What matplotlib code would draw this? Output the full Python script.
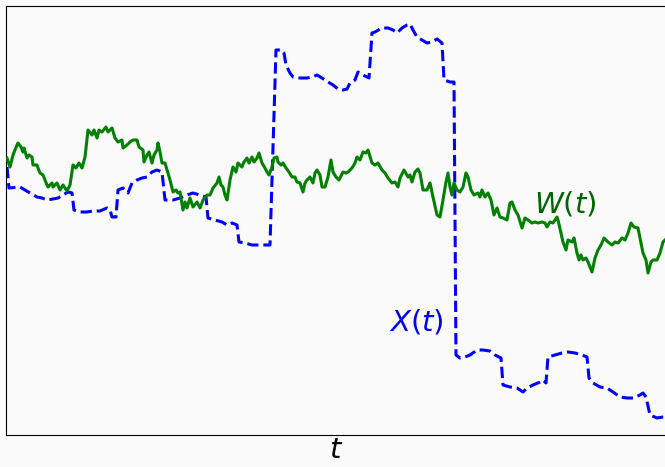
import matplotlib
matplotlib.use("Agg")
import matplotlib.pyplot as plt

# Brownian path W(t): (t, value) pairs
w_points = [
    (1,277),(4,268),(7,280),(11,290),(12,292),(15,288),(17,283),(18,287),(21,277),(23,280),
    (26,278),(27,270),(31,270),(32,267),(34,262),(37,260),(41,250),(42,248),(46,252),(47,248),
    (51,252),(54,245),(57,250),(61,244),(64,250),(67,270),(70,267),(73,272),(76,267),(79,278),
    (82,305),(86,300),(88,305),(91,297),(93,305),(96,303),(100,308),(102,303),(106,307),(109,297),
    (112,293),(116,295),(117,287),(121,290),(124,293),(127,295),(131,295),(133,288),(137,285),(138,273),
    (141,280),(143,283),(146,272),(148,280),(151,285),(152,292),(154,283),(156,272),(159,272),(161,265),
    (162,262),(164,255),(167,243),(170,245),(172,242),(174,243),(177,225),(179,233),(181,227),(184,237),
    (187,228),(191,233),(194,227),(197,235),(201,240),(204,240),(207,247),(211,252),(213,258),(215,250),
    (217,248),(219,240),(221,235),(224,255),(227,268),(230,263),(232,272),(236,268),(238,273),(241,277),
    (243,272),(246,278),(248,273),(251,277),(253,282),(256,272),(259,267),(261,263),(263,260),(266,268),
    (268,277),(271,278),(272,273),(275,270),(277,272),(280,267),(283,263),(286,258),(289,258),(291,253),
    (294,252),(297,243),(299,252),(301,255),(304,258),(307,252),(309,262),(311,265),(314,260),(316,248),
    (319,248),(322,258),(325,275),(327,263),(330,258),(333,255),(337,263),(340,262),(342,263),(346,267),
    (349,272),(351,278),(354,275),(357,283),(360,282),(362,285),(366,272),(369,270),(372,272),(376,265),
    (379,262),(382,257),(386,252),(389,253),(392,248),(394,257),(398,265),(402,258),(404,260),(406,253),
    (409,263),(412,266),(414,262),(417,245),(421,245),(424,252),(427,238),(431,220),(434,218),(437,235),
    (440,253),(442,262),(444,248),(446,240),(448,252),(451,245),(454,243),(457,248),(460,262),(462,258),
    (465,245),(468,240),(472,242),(474,238),(476,245),(479,238),(482,242),(485,235),(488,220),(491,227),
    (494,218),(497,217),(501,215),(504,232),(506,233),(509,225),(512,220),(516,207),(519,217),(522,215),
    (526,212),(529,213),(532,212),(536,213),(539,212),(541,208),(544,213),(547,212),(551,218),(552,215),
    (555,202),(557,193),(560,185),(562,195),(566,193),(568,197),(571,182),(573,175),(575,180),(577,175),
    (580,177),(582,173),(586,163),(589,177),(592,185),(595,190),(598,197),(602,193),(606,190),(609,193),
    (612,192),(616,197),(619,195),(622,202),(625,212),(628,208),(632,207),(634,197),(637,182),(640,175),
    (642,162),(645,173),(647,175),(651,175),(654,182),(657,193),(659,195),
]

# Jump process X(t): (t, value) pairs
x_points = [
    (1,268),(3,247),(14,248),(19,245),(24,242),(31,238),(36,237),(41,235),(47,236),(52,237),
    (57,240),(62,243),(66,242),(68,225),(74,223),(81,223),(87,224),(94,224),(101,227),(104,225),
    (106,218),(110,218),(112,245),(117,247),(122,242),(126,252),(131,255),(136,257),(141,258),(146,263),
    (151,265),(156,263),(159,235),(167,235),(174,237),(181,240),(187,242),(194,240),(200,238),(202,217),
    (209,215),(216,213),(221,210),(226,212),(231,210),(233,193),(239,192),(246,190),(251,190),(257,190),
    (264,190),(270,385),(276,385),(278,382),(280,370),(284,362),(287,358),(294,357),(301,357),(306,358),
    (311,360),(316,357),(322,353),(327,350),(332,346),(337,345),(341,346),(344,352),(349,355),(352,363),
    (357,360),(363,357),(366,402),(369,403),(376,407),(382,407),(387,405),(391,402),(396,407),(401,410),
    (404,411),(407,405),(411,398),(416,395),(421,392),(426,393),(431,396),(436,392),(438,355),(444,353),
    (448,353),(450,80),(454,77),(459,78),(464,80),(471,85),(477,85),(484,84),(489,80),(495,77),
    (497,50),(504,48),(511,47),(517,43),(521,47),(527,50),(534,53),(537,55),(540,52),(542,78),
    (549,80),(556,82),(562,83),(569,82),(576,80),(581,78),(583,57),(587,52),(594,48),(601,47),
    (607,43),(614,38),(621,37),(627,37),(634,40),(637,42),(640,38),(644,20),(651,17),(657,18),
    (659,18),
]

w_label = "$W(t)$"
x_label_curve = "$X(t)$"
axis_label = "$t$"

bg = "#fafafa"
W, H = 665, 467
fig = plt.figure(figsize=(W / 100, H / 100), dpi=100, facecolor=bg)
ax = fig.add_axes([6 / W, (H - 435) / H, (667 - 6) / W, (435 - 6) / H], facecolor=bg)

tw, wv = zip(*w_points)
tx, xv = zip(*x_points)
ax.plot(tw, wv, color="green", lw=2.2, zorder=3)
ax.plot(tx, xv, color="blue", lw=2.2, ls="--", zorder=2)

ax.text(528, 223, w_label, color="darkgreen", fontsize=21, va="baseline", ha="left")
ax.text(383, 105, x_label_curve, color="blue", fontsize=21, va="baseline", ha="left")

ax.set_xlim(0, 661)
ax.set_ylim(0, 429)
ax.set_xticks([])
ax.set_yticks([])
ax.set_xlabel(axis_label, fontsize=21, labelpad=1)

fig.savefig("out.png", dpi=100, facecolor=bg)
